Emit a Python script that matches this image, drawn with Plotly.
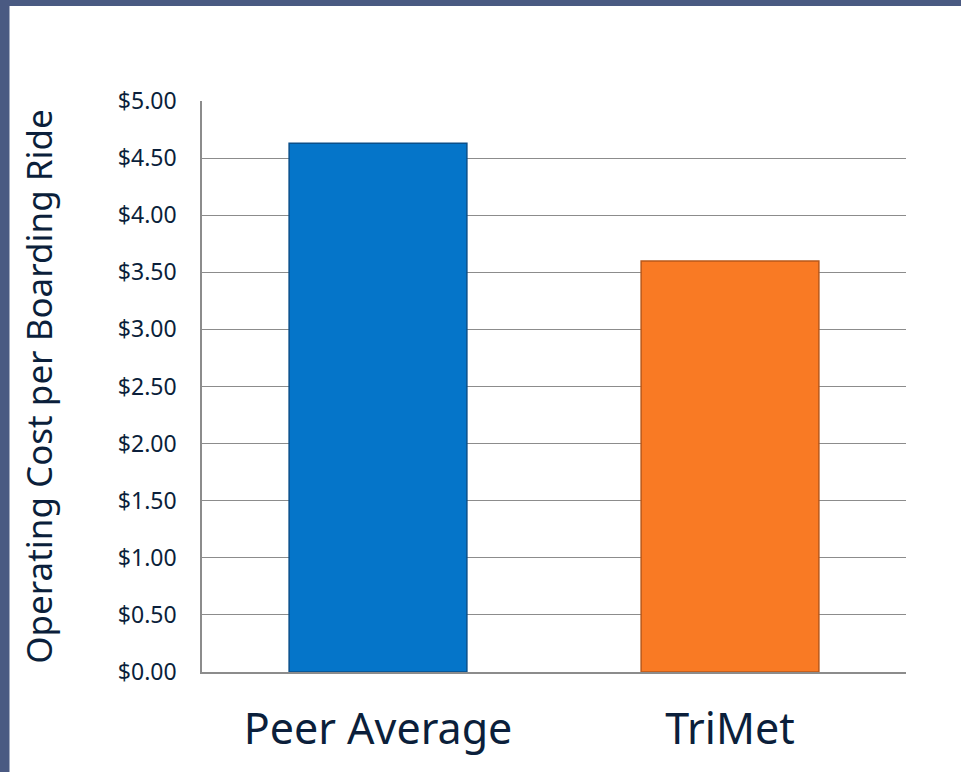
import plotly.graph_objects as go

categories = ["Peer Average", "TriMet"]
values = [4.63, 3.60]
bar_colors = ["#0575c9", "#f97a24"]
edge_colors = ["#0a4f8a", "#b8581a"]
tick_vals = [0, 0.5, 1, 1.5, 2, 2.5, 3, 3.5, 4, 4.5, 5]

W, H = 961, 772
L, R, T, B = 202, 55, 101, 100
pw, ph = W - L - R, H - T - B

def px(x):
    return (x - L) / pw

def py(y):
    return (H - B - y) / ph

fig = go.Figure()
fig.add_trace(go.Bar(
    x=categories, y=values,
    marker=dict(color=bar_colors, line=dict(color=edge_colors, width=1.5)),
    width=0.505,
))

border = "#4a5a82"
fig.update_layout(
    width=W, height=H,
    margin=dict(l=L, r=R, t=T, b=B),
    paper_bgcolor="white", plot_bgcolor="white",
    showlegend=False,
    font=dict(family="Noto Sans", color="#0b1f3b"),
    shapes=[
        dict(type="rect", xref="paper", yref="paper", x0=px(0), x1=px(W), y0=py(6), y1=py(0),
             fillcolor=border, line=dict(width=0), layer="above"),
        dict(type="rect", xref="paper", yref="paper", x0=px(0), x1=px(9.5), y0=py(H), y1=py(0),
             fillcolor=border, line=dict(width=0), layer="above"),
    ],
)
fig.update_yaxes(
    range=[0, 5], tickvals=tick_vals, tickformat="$.2f",
    showgrid=True, gridcolor="#8c8c8c", gridwidth=1.3,
    showline=True, linecolor="#8c8c8c", linewidth=1.5,
    zeroline=False,
    tickfont=dict(size=23, color="#0b1f3b"),
    ticklabelstandoff=19,
    title=dict(text="Operating Cost per Boarding Ride", font=dict(size=35, color="#0b1f3b"), standoff=55),
)
fig.update_xaxes(
    showline=True, linecolor="#8c8c8c", linewidth=2,
    tickfont=dict(size=43, color="#0b1f3b"),
    ticklabelstandoff=18,
)
fig.write_html("out.html", config={"displayModeBar": False},
               post_script="document.body.style.margin='0px';")
